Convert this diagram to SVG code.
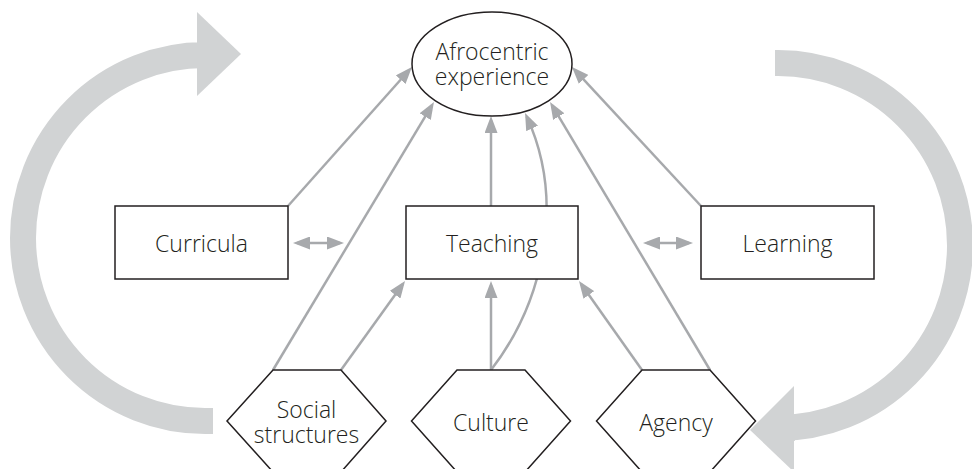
<svg xmlns="http://www.w3.org/2000/svg" width="972" height="469" viewBox="0 0 972 469">
  <defs>
    <style>
      .cycle { fill: none; stroke: #d1d3d4; stroke-width: 26; }
      .cycle-head { fill: #d1d3d4; }
      .link { fill: none; stroke: #a7a9ac; stroke-width: 2.5; marker-end: url(#head); }
      .both { marker-start: url(#head); }
      .shape { fill: #ffffff; stroke: #231f20; stroke-width: 1.5; }
      .label { font-family: "Open Sans", "Noto Sans", "Liberation Sans", sans-serif; font-weight: 300; font-size: 23px; fill: #231f20; text-anchor: middle; }
    </style>
    <marker id="head" markerUnits="userSpaceOnUse" markerWidth="17" markerHeight="13" refX="13" refY="6.5" orient="auto-start-reverse">
      <path d="M0,0 L17,6.5 L0,13 Z" fill="#a7a9ac"/>
    </marker>
  </defs>

  <!-- large cycle arrows -->
  <g id="cycle">
    <path class="cycle" d="M213,421 L205,421 A182,183 0 0 1 205,55 L198,55"/>
    <polygon class="cycle-head" points="197,12 241,54 197,96"/>
    <path class="cycle" d="M775,63 L778,63 A182,182.5 0 0 1 778,428 L795,428"/>
    <polygon class="cycle-head" points="794,386 750,430 794,472"/>
  </g>

  <!-- connectors -->
  <g id="connectors">
    <path class="link" d="M288,206 L409.3,70"/>
    <path class="link" d="M273,370 L431.9,105.4"/>
    <path class="link" d="M710,370 L552.1,105.4"/>
    <path class="link" d="M701,206 L574.7,69.9"/>
    <path class="link" d="M491,206 L491,120"/>
    <path class="link" d="M491,370 L491,285"/>
    <path class="link" d="M341,370 L402.7,284.2"/>
    <path class="link" d="M642,370 L581.3,284.3"/>
    <path class="link" d="M491,370 C545,300 565,200 526.7,116.6"/>
    <path class="link both" d="M297,243 L340,243"/>
    <path class="link both" d="M647,243 L689,243"/>
  </g>

  <!-- nodes -->
  <g id="afrocentric-experience">
    <ellipse class="shape" cx="492" cy="64" rx="80" ry="52"/>
    <text class="label" x="492" y="60">Afrocentric</text>
    <text class="label" x="492" y="85">experience</text>
  </g>
  <g id="curricula">
    <rect class="shape" x="115" y="206" width="173" height="73"/>
    <text class="label" x="201.5" y="252">Curricula</text>
  </g>
  <g id="teaching">
    <rect class="shape" x="406" y="206" width="172" height="73"/>
    <text class="label" x="492" y="252">Teaching</text>
  </g>
  <g id="learning">
    <rect class="shape" x="701" y="206" width="173" height="73"/>
    <text class="label" x="787.5" y="252">Learning</text>
  </g>
  <g id="social-structures">
    <polygon class="shape" points="273,370 341,370 386,421 341,472 273,472 227,421"/>
    <text class="label" x="306.5" y="418">Social</text>
    <text class="label" x="306.5" y="443">structures</text>
  </g>
  <g id="culture">
    <polygon class="shape" points="457,370 525,370 570.5,421 525,472 457,472 411.5,421"/>
    <text class="label" x="491" y="431">Culture</text>
  </g>
  <g id="agency">
    <polygon class="shape" points="642,370 710,370 755.5,421 710,472 642,472 596.5,421"/>
    <text class="label" x="676" y="431">Agency</text>
  </g>
</svg>
